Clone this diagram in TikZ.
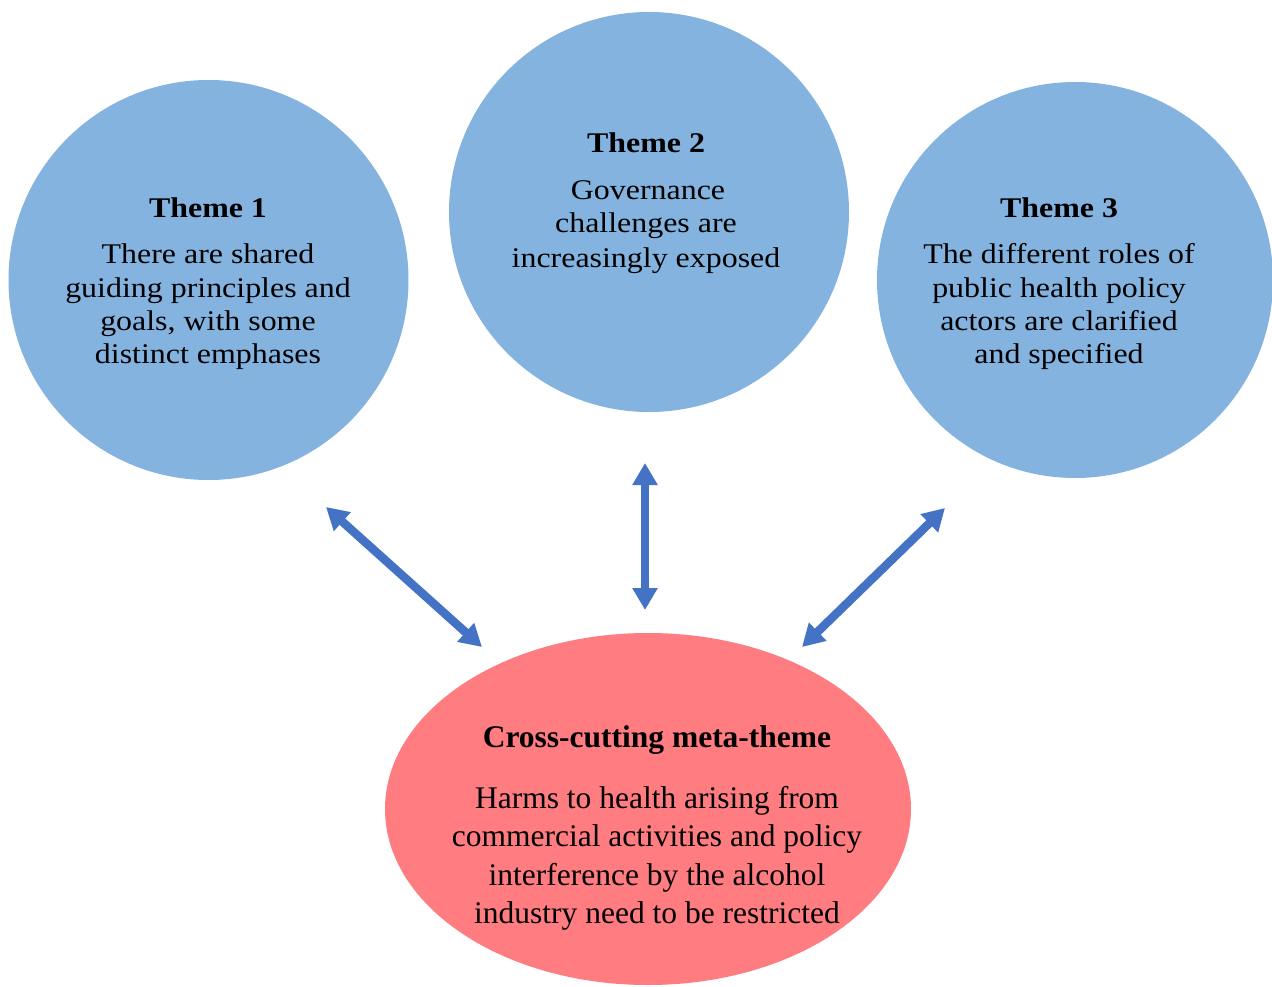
\documentclass[tikz,border=0pt]{standalone}
\usepackage{fontspec}
\setmainfont{Liberation Serif}
\newfontfamily\circfont[FakeStretch=1.12]{Liberation Serif}
\usetikzlibrary{arrows.meta,shapes.geometric}
\definecolor{themeblue}{RGB}{132,179,223}
\definecolor{arrowblue}{RGB}{68,114,196}
\definecolor{metared}{RGB}{255,124,128}
\tikzset{
  theme/.style={circle, fill=themeblue, draw=none, minimum size=400pt, inner sep=0pt},
  meta/.style={ellipse, fill=metared, draw=none, minimum width=526pt, minimum height=352pt, inner sep=0pt},
  cline/.style={anchor=base, inner sep=0pt, font=\circfont\fontsize{28.5}{33}\selectfont},
  ctitle/.style={cline, font=\circfont\bfseries\fontsize{28.5}{33}\selectfont},
  eline/.style={anchor=base, inner sep=0pt, font=\fontsize{31.5}{38}\selectfont},
  etitle/.style={eline, font=\bfseries\fontsize{31.5}{38}\selectfont},
  link/.style={draw=arrowblue, line width=8.5pt,
    {Triangle[length=22pt,width=24pt]}-{Triangle[length=22pt,width=24pt]}}
}
\begin{document}
\begin{tikzpicture}[x=1pt,y=-1pt]
\useasboundingbox (0,0) rectangle (1272,987);
\clip (0,0) rectangle (1272,987);
\fill[white] (0,0) rectangle (1272,987);
% shapes
\node[theme] (t1) at (208.5,280) {};
\node[theme] (t2) at (649,212) {};
\node[theme, minimum size=396pt] (t3) at (1075,280) {};
\node[meta] (m) at (648,809) {};
% theme 1 text
\node[ctitle] (t1a) at (208,218) {Theme 1};
\node[cline] (t1b) at (208,264) {There are shared};
\node[cline] (t1c) at (208,297) {guiding principles and};
\node[cline] (t1d) at (208,330) {goals, with some};
\node[cline] (t1e) at (208,363) {distinct emphases};
% theme 2 text
\node[ctitle] (t2a) at (646,153) {Theme 2};
\node[cline] (t2b) at (648,200) {Governance};
\node[cline] (t2c) at (646,233) {challenges are};
\node[cline] (t2d) at (646,267) {increasingly exposed};
% theme 3 text
\node[ctitle] (t3a) at (1059,218) {Theme 3};
\node[cline] (t3b) at (1059,264) {The different roles of};
\node[cline] (t3c) at (1059,297) {public health policy};
\node[cline] (t3d) at (1059,330) {actors are clarified};
\node[cline] (t3e) at (1059,363) {and specified};
% meta text
\node[etitle] (ma) at (657,747) {Cross-cutting meta-theme};
\node[eline] (mb) at (657,808) {Harms to health arising from};
\node[eline] (mc) at (657,846) {commercial activities and policy};
\node[eline] (md) at (657,885) {interference by the alcohol};
\node[eline] (me) at (657,923) {industry need to be restricted};
% arrow ends
\coordinate (a1s) at (326,507);
\coordinate (a1e) at (482,647);
\coordinate (a2s) at (645,463);
\coordinate (a2e) at (645,610);
\coordinate (a3s) at (945,508);
\coordinate (a3e) at (802,647);
\draw[link] (a1s) -- (a1e);
\draw[link] (a2s) -- (a2e);
\draw[link] (a3s) -- (a3e);
\end{tikzpicture}
\end{document}
